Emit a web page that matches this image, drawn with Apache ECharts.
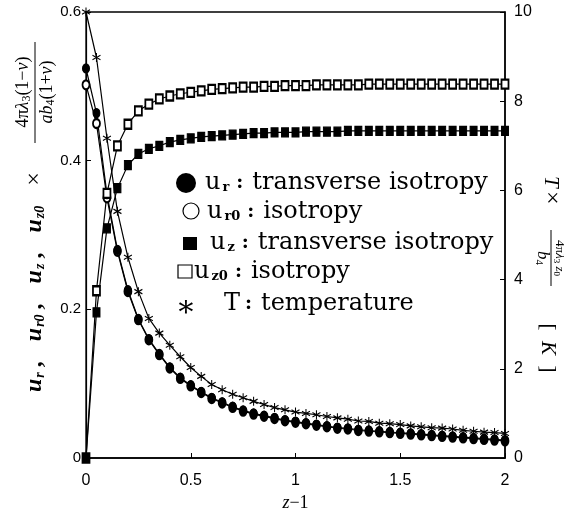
<!DOCTYPE html>
<html>
<head>
<meta charset="utf-8">
<script src="https://cdn.jsdelivr.net/npm/echarts@6/dist/echarts.min.js"></script>
<style>
  html, body { margin: 0; padding: 0; background: #fff; }
  #chart { width: 564px; height: 510px; }
</style>
</head>
<body>
<div id="chart"></div>
<script>
// z-1 positions of the markers
const zVals = [0, 0.05, 0.1, 0.15, 0.2, 0.25, 0.3, 0.35, 0.4, 0.45, 0.5, 0.55, 0.6, 0.65, 0.7, 0.75, 0.8, 0.85, 0.9, 0.95,
  1, 1.05, 1.1, 1.15, 1.2, 1.25, 1.3, 1.35, 1.4, 1.45, 1.5, 1.55, 1.6, 1.65, 1.7, 1.75, 1.8, 1.85, 1.9, 1.95, 2];

// u_r : transverse isotropy (left axis)
const uR = [0.524, 0.464, 0.355, 0.280, 0.226, 0.187, 0.160, 0.140, 0.122, 0.108, 0.098, 0.089, 0.081, 0.075, 0.069, 0.064,
  0.060, 0.057, 0.054, 0.051, 0.049, 0.047, 0.045, 0.043, 0.041, 0.040, 0.038, 0.037, 0.036, 0.035, 0.034, 0.033, 0.032,
  0.031, 0.030, 0.029, 0.028, 0.027, 0.026, 0.025, 0.024];
// u_r0 : isotropy
const uR0 = [0.502, 0.450, 0.350, 0.278, 0.224, 0.186, 0.159, 0.139, 0.121, 0.107, 0.097, 0.088, 0.080, 0.074, 0.068, 0.063,
  0.059, 0.056, 0.053, 0.050, 0.048, 0.046, 0.044, 0.042, 0.040, 0.039, 0.037, 0.036, 0.035, 0.034, 0.033, 0.032, 0.031,
  0.030, 0.029, 0.028, 0.027, 0.026, 0.025, 0.024, 0.023];
// u_z : transverse isotropy
const uZ = [0, 0.196, 0.309, 0.363, 0.394, 0.409, 0.416, 0.420, 0.425, 0.428, 0.430, 0.432, 0.433, 0.434, 0.435, 0.436,
  0.437, 0.437, 0.438, 0.438, 0.438, 0.439, 0.439, 0.439, 0.439, 0.440, 0.440, 0.440, 0.440, 0.440, 0.440, 0.440, 0.440,
  0.440, 0.440, 0.440, 0.440, 0.440, 0.440, 0.440, 0.440];
// u_z0 : isotropy
const uZ0 = [0, 0.225, 0.356, 0.420, 0.449, 0.467, 0.476, 0.483, 0.487, 0.490, 0.492, 0.494, 0.496, 0.497, 0.498, 0.499,
  0.499, 0.500, 0.500, 0.501, 0.501, 0.501, 0.502, 0.502, 0.502, 0.502, 0.502, 0.503, 0.503, 0.503, 0.503, 0.503, 0.503,
  0.503, 0.503, 0.503, 0.503, 0.503, 0.503, 0.503, 0.503];
// T : temperature (right axis, [K])
const temp = [10.0, 8.98, 7.17, 5.53, 4.50, 3.73, 3.13, 2.80, 2.53, 2.27, 2.03, 1.83, 1.65, 1.53, 1.43, 1.35,
  1.27, 1.20, 1.13, 1.08, 1.03, 1.00, 0.97, 0.93, 0.90, 0.87, 0.83, 0.82, 0.78, 0.77, 0.75, 0.72, 0.70,
  0.68, 0.67, 0.65, 0.62, 0.60, 0.58, 0.57, 0.55];

const leftTicks = [0, 0.2, 0.4, 0.6];
const rightTicks = [0, 2, 4, 6, 8, 10];
const xTicks = [0, 0.5, 1, 1.5, 2];

const pairs = arr => zVals.map((z, i) => [z, arr[i]]);

const asterisk = 'path://M5 0L5 10M0.7 2.5L9.3 7.5M0.7 7.5L9.3 2.5';
const serif = '"DejaVu Serif", serif';
const tms = '"Liberation Serif", serif';
const sans = '"Liberation Sans", Arial, sans-serif';

const chart = echarts.init(document.getElementById('chart'));

const baseSeries = {
  type: 'line',
  showSymbol: true,
  animation: false,
  lineStyle: { color: '#000', width: 1.2 },
  itemStyle: { color: '#000', borderColor: '#000', borderWidth: 1.1 }
};

// legend text styles
const legRich = {
  u: { fontFamily: serif, fontSize: 24, color: '#000' },
  s: { fontFamily: serif, fontSize: 13, fontWeight: 'bold', color: '#000', padding: [9, 2, 0, 2] },
  c: { fontFamily: serif, fontSize: 19, fontWeight: 'bold', color: '#000', padding: [0, 9, 0, 5] },
  t: { fontFamily: serif, fontSize: 24, color: '#000' }
};
const mathRich = {
  i: { fontFamily: tms, fontSize: 24, fontStyle: 'italic', fontWeight: 'bold', color: '#000' },
  n: { fontFamily: tms, fontSize: 18, color: '#000' },
  ni: { fontFamily: tms, fontSize: 18, fontStyle: 'italic', color: '#000' },
  s: { fontFamily: tms, fontSize: 12, color: '#000', padding: [8, 0, 0, 0] },
  si: { fontFamily: tms, fontSize: 14, fontStyle: 'italic', fontWeight: 'bold', color: '#000', padding: [10, 0, 0, 1] },
  cm: { fontFamily: tms, fontSize: 24, fontWeight: 'bold', color: '#000', padding: [0, 20, 0, 5] },
  m: { fontFamily: tms, fontSize: 24, color: '#000' },
  rn: { fontFamily: tms, fontSize: 13, color: '#000' },
  rni: { fontFamily: tms, fontSize: 13, fontStyle: 'italic', color: '#000' },
  rs: { fontFamily: tms, fontSize: 9, color: '#000', padding: [6, 0, 0, 0] },
  rd: { fontFamily: tms, fontSize: 17, fontStyle: 'italic', color: '#000' },
  rds: { fontFamily: tms, fontSize: 11, color: '#000', padding: [7, 0, 0, 0] },
  ri: { fontFamily: tms, fontSize: 21, fontStyle: 'italic', color: '#000' },
  rk: { fontFamily: tms, fontSize: 21, color: '#000' }
};

const option = {
  backgroundColor: '#fff',
  animation: false,
  grid: { left: 86, right: 59, top: 12, bottom: 52, outerBoundsMode: 'none', containLabel: false,
    show: true, borderColor: '#000', borderWidth: 1.3 },
  xAxis: {
    type: 'value', min: 0, max: 2, interval: 0.5,
    name: '{ni|z}{n|−1}', nameLocation: 'middle', nameGap: 35,
    nameTextStyle: { rich: mathRich },
    axisLine: { lineStyle: { color: '#000', width: 1.5 } },
    axisTick: { inside: true, length: 5, lineStyle: { color: '#000' } },
    axisLabel: { margin: 15, fontFamily: sans, fontSize: 16, color: '#000',
      formatter: v => xTicks.includes(v) ? String(v) : '' },
    splitLine: { show: false }
  },
  yAxis: [
    {
      type: 'value', min: 0, max: 0.6, interval: 0.2,
      axisLine: { show: true, lineStyle: { color: '#000', width: 1.2 } },
      axisTick: { inside: true, length: 5, lineStyle: { color: '#000' } },
      axisLabel: { margin: 5, fontFamily: sans, fontSize: 15, color: '#000',
        formatter: v => leftTicks.includes(+v.toFixed(2)) ? String(+v.toFixed(2)) : '' },
      splitLine: { show: false }
    },
    {
      type: 'value', min: 0, max: 10, interval: 2, position: 'right',
      axisLine: { show: true, lineStyle: { color: '#000', width: 1.5 } },
      axisTick: { inside: true, length: 5, lineStyle: { color: '#000' } },
      axisLabel: { margin: 9, fontFamily: sans, fontSize: 16, color: '#000',
        formatter: v => rightTicks.includes(v) ? String(v) : '' },
      splitLine: { show: false }
    }
  ],
  series: [
    { ...baseSeries, name: 'u_r0', data: pairs(uR0), symbol: 'emptyCircle', symbolSize: [7, 9] },
    { ...baseSeries, name: 'u_r', data: pairs(uR), symbol: 'circle', symbolSize: [7, 9] },
    { ...baseSeries, name: 'u_z0', data: pairs(uZ0), symbol: 'emptyRect', symbolSize: [7, 9] },
    { ...baseSeries, name: 'u_z', data: pairs(uZ), symbol: 'rect', symbolSize: [7, 9] },
    { ...baseSeries, name: 'T', data: pairs(temp), yAxisIndex: 1, symbol: asterisk, symbolSize: [8, 9] }
  ],
  graphic: [
    // left axis title, rotated
    {
      type: 'group', x: 35, y: 392, rotation: Math.PI / 2,
      children: [
        { type: 'text', x: 0, y: 0, style: { text: '{i|u}{si|r}{cm|,}{i|u}{si|r0}{cm|,}{i|u}{si|z}{cm|,}{i|u}{si|z0}', rich: mathRich, verticalAlign: 'middle', align: 'left' } },
        { type: 'text', x: 213, y: 0, style: { text: '{m|×}', rich: mathRich, verticalAlign: 'middle', align: 'center' } },
        { type: 'text', x: 300, y: -12, style: { text: '{n|4π}{ni|λ}{s|3}{n|(1−}{ni|ν}{n|)}', rich: mathRich, verticalAlign: 'middle', align: 'center' } },
        { type: 'line', shape: { x1: 249, y1: 0, x2: 350, y2: 0 }, style: { stroke: '#000', lineWidth: 1 } },
        { type: 'text', x: 300, y: 12, style: { text: '{ni|ab}{s|4}{n|(1+}{ni|ν}{n|)}', rich: mathRich, verticalAlign: 'middle', align: 'center' } }
      ]
    },
    // right axis title, rotated
    {
      type: 'group', x: 551, y: 176, rotation: -Math.PI / 2,
      children: [
        { type: 'text', x: 0, y: 0, style: { text: '{ri|T} {m|×}', rich: mathRich, verticalAlign: 'middle', align: 'left' } },
        { type: 'text', x: 82, y: -8, style: { text: '{rn|4π}{rni|λ}{rs|3}{rni| z}{rs|0}', rich: mathRich, verticalAlign: 'middle', align: 'center' } },
        { type: 'line', shape: { x1: 54, y1: 0, x2: 110, y2: 0 }, style: { stroke: '#000', lineWidth: 1 } },
        { type: 'text', x: 82, y: 9, style: { text: '{rd|b}{rds|4}', rich: mathRich, verticalAlign: 'middle', align: 'center' } },
        { type: 'text', x: 172, y: 3, style: { text: '{rk|[  }{ri|K}{rk|  ]}', rich: mathRich, verticalAlign: 'middle', align: 'center' } }
      ]
    },
    // legend
    { type: 'circle', shape: { cx: 186, cy: 183, r: 10 }, style: { fill: '#000' } },
    { type: 'text', x: 205, y: 183, style: { text: '{u|u}{s|r}{c|:}{t|transverse isotropy}', rich: legRich, verticalAlign: 'middle' } },
    { type: 'circle', shape: { cx: 191, cy: 211, r: 8 }, style: { fill: '#fff', stroke: '#000', lineWidth: 1.2 } },
    { type: 'text', x: 207, y: 212, style: { text: '{u|u}{s|r0}{c|:}{t|isotropy}', rich: legRich, verticalAlign: 'middle' } },
    { type: 'rect', shape: { x: 183, y: 237, width: 14, height: 13 }, style: { fill: '#000' } },
    { type: 'text', x: 210, y: 243, style: { text: '{u|u}{s|z}{c|:}{t|transverse isotropy}', rich: legRich, verticalAlign: 'middle' } },
    { type: 'rect', shape: { x: 178, y: 265, width: 14, height: 13 }, style: { fill: '#fff', stroke: '#000', lineWidth: 1.2 } },
    { type: 'text', x: 194, y: 272, style: { text: '{u|u}{s|z0}{c|:}{t|isotropy}', rich: legRich, verticalAlign: 'middle' } },
    { type: 'text', x: 186, y: 308, style: { text: '∗', font: '30px "DejaVu Serif"', fill: '#000', align: 'center', verticalAlign: 'middle' } },
    { type: 'text', x: 224, y: 304, style: { text: '{u|T}{c|:}{t|temperature}', rich: legRich, verticalAlign: 'middle' } }
  ]
};

chart.setOption(option);
</script>
</body>
</html>
